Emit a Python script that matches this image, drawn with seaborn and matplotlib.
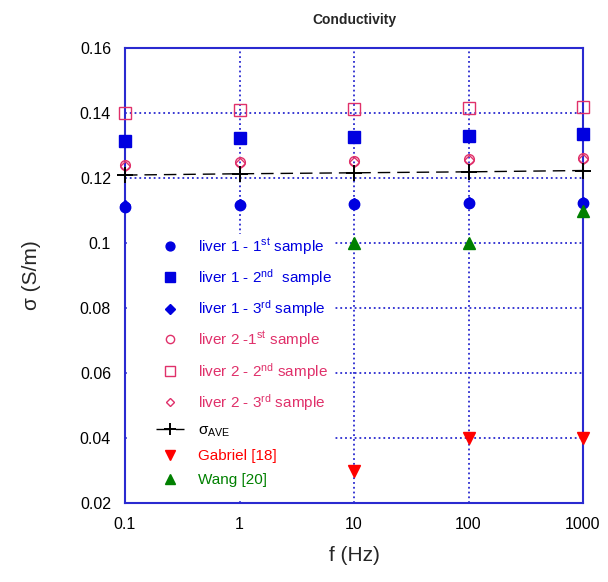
import matplotlib
matplotlib.use("Agg")
import matplotlib.pyplot as plt
import seaborn as sns
from matplotlib.patches import Rectangle

sns.set_theme(style="white")
plt.rcParams['font.family'] = ['Liberation Sans', 'DejaVu Sans']
plt.rcParams['mathtext.fontset'] = 'custom'
plt.rcParams['mathtext.rm'] = 'Liberation Sans'
plt.rcParams['mathtext.it'] = 'Liberation Sans'

# ---- data ----
freq = [0.1, 1, 10, 100, 1000]
liver1_s1 = [0.1112, 0.1117, 0.1120, 0.1122, 0.1122]
liver1_s2 = [0.1314, 0.1323, 0.1326, 0.1329, 0.1335]
liver1_s3 = [0.1116, 0.1121, 0.1124, 0.1126, 0.1126]
liver2_s1 = [0.1240, 0.1249, 0.1252, 0.1257, 0.1262]
liver2_s2 = [0.1400, 0.1409, 0.1413, 0.1416, 0.1418]
liver2_s3 = [0.1238, 0.1247, 0.1250, 0.1255, 0.1260]
sigma_ave = [0.1209, 0.1213, 0.1216, 0.1219, 0.1223]
gabriel_f = [10, 100, 1000]
gabriel_v = [0.030, 0.040, 0.040]
wang_f = [10, 100, 1000]
wang_v = [0.100, 0.100, 0.110]

xticks = [0.1, 1, 10, 100, 1000]
xticklabels = ['0.1', '1', '10', '100', '1000']
yticks = [0.02, 0.04, 0.06, 0.08, 0.1, 0.12, 0.14, 0.16]
yticklabels = ['0.02', '0.04', '0.06', '0.08', '0.1', '0.12', '0.14', '0.16']

labels = [
    r'liver 1 - 1$^{\rm st}$ sample',
    r'liver 1 - 2$^{\rm nd}$  sample',
    r'liver 1 - 3$^{\rm rd}$ sample',
    r'liver 2 -1$^{\rm st}$ sample',
    r'liver 2 - 2$^{\rm nd}$ sample',
    r'liver 2 - 3$^{\rm rd}$ sample',
    r'$\sigma_{\rm AVE}$',
    'Gabriel [18]',
    'Wang [20]',
]

BLUE = '#0000e0'
PINK = '#e0306a'
RED = '#ff0000'
GREEN = '#008000'
GRID = '#2a2ad0'

fig = plt.figure(figsize=(6.08, 5.82), dpi=100)
ax = fig.add_axes([125/608, 1-503/582, 458/608, 455/582])

def pts(x, y, label, marker, color, ms, filled=True, zorder=3):
    sns.lineplot(x=x, y=y, ax=ax, label=label, linestyle='', marker=marker,
                 markersize=ms, color=color, markeredgecolor=color,
                 markerfacecolor=color if filled else 'none',
                 markeredgewidth=1.0, zorder=zorder, clip_on=False)

pts(freq, liver1_s1, labels[0], 'o', BLUE, 7.5)
pts(freq, liver1_s2, labels[1], 's', BLUE, 8)
pts(freq, liver1_s3, labels[2], 'D', BLUE, 5.5)
pts(freq, liver2_s1, labels[3], 'o', PINK, 7, filled=False)
pts(freq, liver2_s2, labels[4], 's', PINK, 8, filled=False)
pts(freq, liver2_s3, labels[5], 'D', PINK, 5, filled=False)
sns.lineplot(x=freq, y=sigma_ave, ax=ax, label=labels[6], color='black',
             linestyle=(0, (9, 5)), linewidth=1.0, marker='+', markersize=11,
             markeredgewidth=1.4, markeredgecolor='black', zorder=3,
             clip_on=False)
pts(gabriel_f, gabriel_v, labels[7], 'v', RED, 9)
pts(wang_f, wang_v, labels[8], '^', GREEN, 9)

ax.set_xscale('log')
ax.set_xlim(0.1, 1000)
ax.set_ylim(0.02, 0.16)
ax.set_xticks(xticks)
ax.set_xticklabels(xticklabels)
ax.set_yticks(yticks)
ax.set_yticklabels(yticklabels)
ax.minorticks_off()

ax.set_axisbelow(True)
ax.grid(True, which='major', color=GRID, linestyle=':', linewidth=1.3)
for s in ax.spines.values():
    s.set_color(GRID)
    s.set_linewidth(1.5)
ax.tick_params(direction='in', length=5, color=GRID, labelsize=11.5,
               labelcolor='black', pad=10)

# white backdrop behind the legend (hides the grid there)
ax.add_patch(Rectangle((0.004, 0.004), 0.452, 0.588, transform=ax.transAxes,
                       facecolor='white', edgecolor='none', zorder=1))

leg = ax.legend(loc='upper left', bbox_to_anchor=(0.055, 0.6), frameon=False,
                fontsize=11, handlelength=1.8, handletextpad=0.9,
                labelspacing=0.68, borderaxespad=0, markerscale=0.85)
colors = [BLUE, BLUE, BLUE, PINK, PINK, PINK, 'black', RED, GREEN]
for t, c in zip(leg.get_texts(), colors):
    t.set_color(c)

ax.set_title('Conductivity', fontsize=10, fontweight='bold', pad=17)
ax.set_xlabel('f (Hz)', fontsize=15, labelpad=10)
ax.set_ylabel('σ (S/m)', fontsize=15, labelpad=28)

fig.savefig('out.png', dpi=100)
